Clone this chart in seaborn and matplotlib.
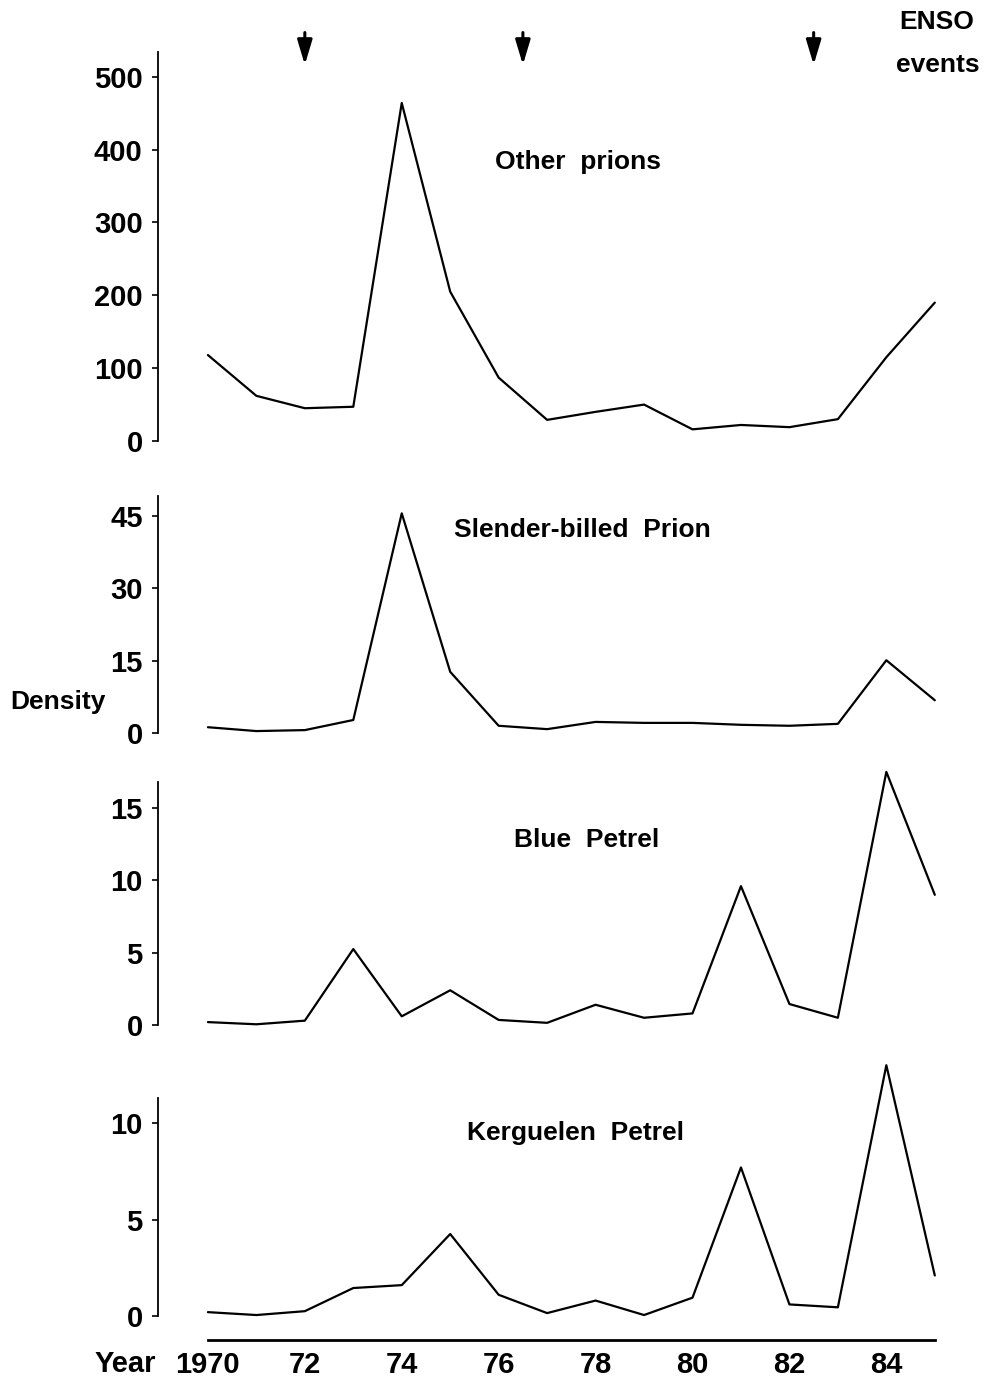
import matplotlib
matplotlib.use("Agg")
import matplotlib.pyplot as plt
from matplotlib import font_manager
import numpy as np
import pandas as pd
import seaborn as sns

# data (density per year)
years = list(range(1970, 1986))
other_prions = [118, 62, 45, 47, 464, 205, 87, 29, 40, 50, 16, 22, 19, 30, 115, 190]
slender_billed = [1.2, 0.4, 0.6, 2.7, 45.6, 12.7, 1.5, 0.8, 2.3, 2.1, 2.1, 1.7, 1.5, 1.9, 15.1, 6.8]
blue_petrel = [0.2, 0.05, 0.3, 5.25, 0.6, 2.4, 0.35, 0.15, 1.4, 0.5, 0.8, 9.6, 1.45, 0.5, 17.5, 9.0]
kerguelen = [0.2, 0.05, 0.25, 1.45, 1.6, 4.25, 1.1, 0.15, 0.8, 0.05, 0.95, 7.7, 0.6, 0.45, 13.0, 2.1]
enso_years = [1972, 1976.5, 1982.5]

titles = ["Other  prions", "Slender-billed  Prion", "Blue  Petrel", "Kerguelen  Petrel"]
yticks = [[0, 100, 200, 300, 400, 500], [0, 15, 30, 45], [0, 5, 10, 15], [0, 5, 10]]
xtick_years = [1970, 1972, 1974, 1976, 1978, 1980, 1982, 1984]
xtick_labels = ["1970", "72", "74", "76", "78", "80", "82", "84"]

sns.set_style("ticks")
installed = {f.name for f in font_manager.fontManager.ttflist}
fam = [f for f in ["Liberation Sans", "DejaVu Sans"] if f in installed]
plt.rcParams["font.family"] = fam
plt.rcParams["font.weight"] = "bold"
plt.rcParams["text.color"] = "black"
plt.rcParams["xtick.color"] = "black"
plt.rcParams["ytick.color"] = "black"
plt.rcParams["axes.edgecolor"] = "black"

W, H = 988, 1380
fig = plt.figure(figsize=(W / 100, H / 100), dpi=100)

left_px, right_px = 158, 960
panel_px = [(52, 441), (496, 733), (782, 1025), (1098, 1316)]
ytops = [534, 49.2, 16.8, 11.3]
title_pos = [(0.524, 0.717), (0.529, 0.857), (0.535, 0.761), (0.52, 0.839)]
series = [other_prions, slender_billed, blue_petrel, kerguelen]

axes = []
for i, (top, bot) in enumerate(panel_px):
    ax = fig.add_axes([left_px / W, 1 - bot / H, (right_px - left_px) / W, (bot - top) / H])
    df = pd.DataFrame({"year": years, "density": series[i]})
    sns.lineplot(data=df, x="year", y="density", ax=ax, color="black", lw=1.6)
    for ln in ax.lines:
        ln.set_clip_on(False)
    ax.set_xlim(1968.97, 1985.52)
    ax.set_ylim(0, ytops[i])
    ax.set_yticks(yticks[i])
    ax.set_yticklabels([str(t) for t in yticks[i]], fontsize=21, fontweight="bold")
    ax.tick_params(axis="y", length=4, width=1.2, pad=7, direction="out")
    ax.set_xlabel("")
    ax.set_ylabel("")
    for s in ["top", "right"]:
        ax.spines[s].set_visible(False)
    ax.spines["left"].set_linewidth(1.3)
    ax.text(*title_pos[i], titles[i], transform=ax.transAxes, ha="center", va="center",
            fontsize=19, fontweight="bold")
    if i < 3:
        ax.spines["bottom"].set_visible(False)
        ax.set_xticks([])
    axes.append(ax)

ax4 = axes[-1]
ax4.spines["bottom"].set_position(("outward", 17))
ax4.spines["bottom"].set_bounds(1970, 1985)
ax4.spines["bottom"].set_linewidth(2)
ax4.set_xticks(xtick_years)
ax4.set_xticklabels(xtick_labels, fontsize=21, fontweight="bold")
ax4.tick_params(axis="x", length=0, pad=8)

# ENSO arrows above the top panel
ax1 = axes[0]
for yr in enso_years:
    ax1.annotate("", xy=(yr, 0.967), xytext=(yr, 1.05), xycoords=ax1.get_xaxis_transform(),
                 annotation_clip=False,
                 arrowprops=dict(arrowstyle="-|>,head_length=1.5,head_width=0.45",
                                 color="black", lw=2.2, mutation_scale=10,
                                 shrinkA=0, shrinkB=0))

fig.text(937 / W, 1 - 22 / H, "ENSO", ha="center", va="center", fontsize=19, fontweight="bold")
fig.text(938 / W, 1 - 65 / H, "events", ha="center", va="center", fontsize=19, fontweight="bold")
fig.text(58 / W, 1 - 702 / H, "Density", ha="center", va="center", fontsize=19, fontweight="bold")
fig.text(125 / W, 1 - 1364 / H, "Year", ha="center", va="center", fontsize=21, fontweight="bold")

fig.savefig("out.png", dpi=100, facecolor="white")
